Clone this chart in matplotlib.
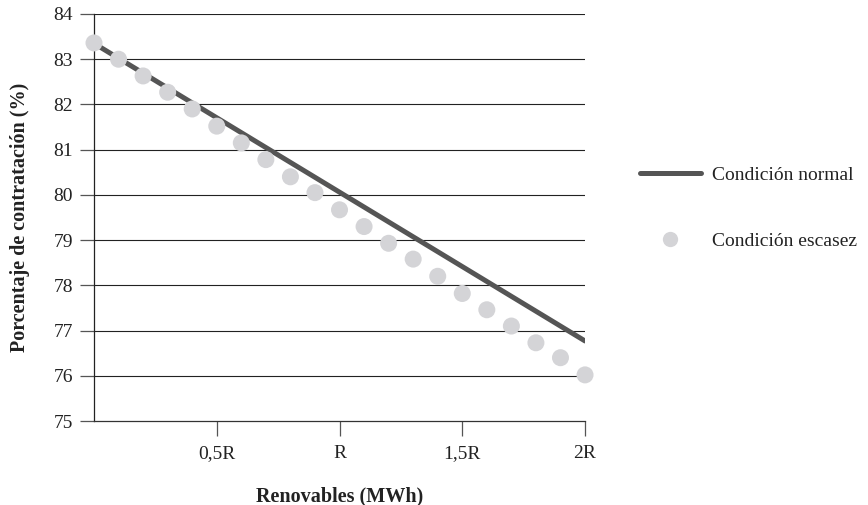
import matplotlib
matplotlib.use('Agg')
from matplotlib import pyplot as plt
from matplotlib.lines import Line2D

plt.rcParams['font.family'] = ['Liberation Serif', 'DejaVu Serif']

# data
x_normal = [0, 2]
y_normal = [83.35, 76.77]

x_escasez = [0, 0.1, 0.2, 0.3, 0.4, 0.5, 0.6, 0.7, 0.8, 0.9, 1.0,
             1.1, 1.2, 1.3, 1.4, 1.5, 1.6, 1.7, 1.8, 1.9, 2.0]
y_escasez = [83.36, 83.0, 82.63, 82.27, 81.9, 81.52, 81.15, 80.78, 80.4, 80.05, 79.67,
             79.3, 78.93, 78.58, 78.2, 77.82, 77.46, 77.1, 76.73, 76.4, 76.02]

xticks = [0.5, 1.0, 1.5, 2.0]
xtick_labels = ['0,5R', 'R', '1,5R', '2R']
yticks = [75, 76, 77, 78, 79, 80, 81, 82, 83, 84]

line_color = '#555555'
dot_color = '#d4d4d7'

fig = plt.figure(figsize=(8.68, 5.05), dpi=100)
ax = fig.add_axes([0.1083, 0.1663, 0.674 - 0.1083, 0.9723 - 0.1663])

# horizontal grid lines
for v in yticks[1:]:
    ax.axhline(v, color='#222222', linewidth=0.8, zorder=1)

ax.plot(x_normal, y_normal, color=line_color, linewidth=3.6, solid_capstyle='round', zorder=3)
ax.scatter(x_escasez, y_escasez, s=150, color=dot_color, edgecolors='none', zorder=4, clip_on=False)

ax.set_xlim(0, 2)
ax.set_ylim(75, 84)
ax.set_xticks(xticks)
ax.set_xticklabels(xtick_labels)
ax.set_yticks(yticks)

for s in ['top', 'right']:
    ax.spines[s].set_visible(False)
ax.spines['left'].set_color('#222222')
ax.spines['bottom'].set_color('#333333')
ax.spines['left'].set_linewidth(0.9)
ax.spines['bottom'].set_linewidth(0.9)

ax.tick_params(axis='y', length=10, width=0.9, color='#555555', pad=5, labelsize=14, labelcolor='#222222')
ax.tick_params(axis='x', length=11, width=0.9, color='#555555', pad=6, labelsize=14, labelcolor='#222222')

ax.set_xlabel('Renovables (MWh)', fontsize=14.5, fontweight='bold', labelpad=18, color='#222222')
ax.set_ylabel('Porcentaje de contratación (%)', fontsize=14.5, fontweight='bold', labelpad=17, color='#222222')

handles = [Line2D([0], [0], color=line_color, linewidth=3.6, solid_capstyle='round'),
           Line2D([0], [0], marker='o', linestyle='none', markersize=11,
                  markerfacecolor=dot_color, markeredgecolor='none')]
fig.legend(handles, ['Condición normal', 'Condición escasez'],
           loc='center left', bbox_to_anchor=(0.7175, 0.588), frameon=False,
           fontsize=14, handlelength=3.1, labelspacing=2.5, handletextpad=0.6,
           labelcolor='#222222')

plt.savefig('out.png', dpi=100)
